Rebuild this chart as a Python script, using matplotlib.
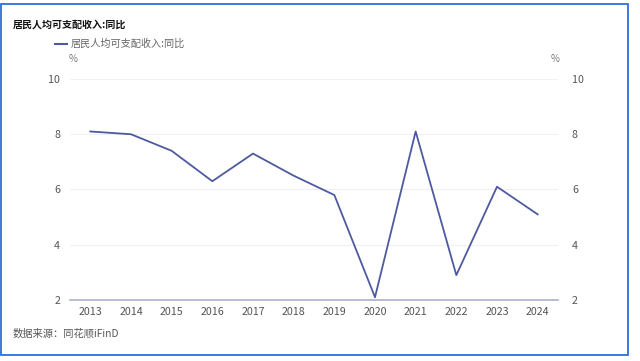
import matplotlib
matplotlib.use("Agg")
import matplotlib.pyplot as plt
from matplotlib.patches import Rectangle

plt.rcParams['font.family'] = ['Noto Sans CJK SC', 'DejaVu Sans']

years = ['2013', '2014', '2015', '2016', '2017', '2018', '2019', '2020', '2021', '2022', '2023', '2024']
values = [8.1, 8.0, 7.4, 6.3, 7.3, 6.5, 5.8, 2.1, 8.1, 2.9, 6.1, 5.1]
yticks = [2, 4, 6, 8, 10]
title = '居民人均可支配收入:同比'
source = '数据来源：同花顺iFinD'

W, H = 640, 361
fig = plt.figure(figsize=(W / 100, H / 100), dpi=100)
fig.patch.set_facecolor('white')

# outer blue frame
fig.add_artist(Rectangle((1 / W, 1 - 355 / H), 626.5 / W, 351 / H, transform=fig.transFigure,
                         fill=False, edgecolor='#2f6fd8', linewidth=1.3))

x0, x1 = 70, 558
ytop, ybot = 79, 300
ax = fig.add_axes([x0 / W, 1 - ybot / H, (x1 - x0) / W, (ybot - ytop) / H])
xs = list(range(len(years)))
line_color = '#4e5a9e'
ax.plot(xs, values, color=line_color, linewidth=1.3, label=title, clip_on=False)
ax.set_xlim(-0.5, len(years) - 0.5)
ax.set_ylim(2, 10)
ax.set_yticks(yticks)
ax.set_yticklabels([str(v) for v in yticks])
ax.set_xticks(xs)
ax.set_xticklabels(years)
for s in ['top', 'right', 'left']:
    ax.spines[s].set_visible(False)
ax.spines['bottom'].set_color('#aab2c8')
ax.spines['bottom'].set_linewidth(1.2)
ax.grid(axis='y', color='#efeff5', linewidth=0.8)
ax.set_axisbelow(True)
ax.tick_params(axis='both', length=0, labelsize=7.7, colors='#555555')
ax.tick_params(axis='x', pad=5)
ax.tick_params(axis='y', pad=7)

ax2 = ax.twinx()
ax2.set_ylim(2, 10)
ax2.set_yticks(yticks)
ax2.set_yticklabels([str(v) for v in yticks])
for s in ax2.spines.values():
    s.set_visible(False)
ax2.tick_params(axis='y', length=0, labelsize=7.7, colors='#555555', pad=10)

# texts
fig.text(13 / W, 1 - 25 / H, title, fontsize=7.2, fontweight='bold', color='#111111', va='center', ha='left')
fig.lines.append(plt.Line2D([55 / W, 67 / W], [1 - 44 / H, 1 - 44 / H], transform=fig.transFigure,
                            color=line_color, linewidth=1.5))
fig.text(71 / W, 1 - 44 / H, title, fontsize=7.3, color='#666666', va='center', ha='left')
fig.text(73 / W, 1 - 59 / H, '%', fontsize=7, color='#777777', va='center', ha='center')
fig.text(555 / W, 1 - 59 / H, '%', fontsize=7, color='#777777', va='center', ha='center')
fig.text(13 / W, 1 - 334 / H, source, fontsize=7.4, color='#555555', va='center', ha='left')

fig.savefig('out.png', dpi=100, facecolor='white')
